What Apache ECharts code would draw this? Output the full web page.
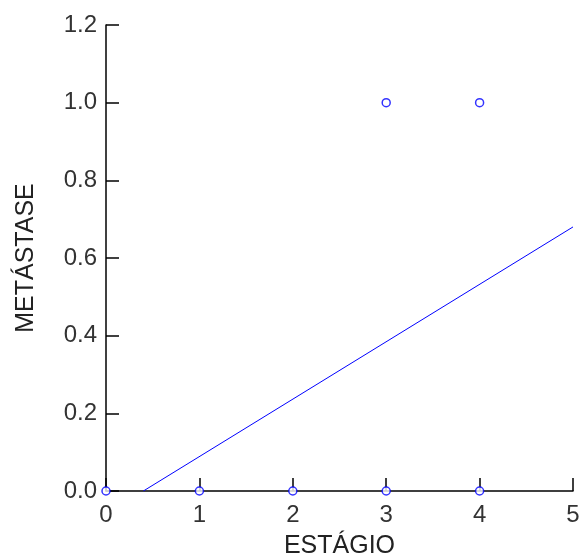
<!DOCTYPE html>
<html><head><meta charset="utf-8">
<script src="https://cdn.jsdelivr.net/npm/echarts@6/dist/echarts.min.js"></script>
<style>html,body{margin:0;padding:0;background:#fff}#c{width:579px;height:557px}</style>
</head><body><div id="c"></div>
<script>
const xTitle = 'ESTÁGIO';
const yTitle = 'METÁSTASE';
const pointsX = [0, 1, 2, 3, 4, 3, 4];
const pointsY = [0, 0, 0, 0, 0, 1, 1];
const lineX = [0.4, 5];
const lineY = [0, 0.68];

const chart = echarts.init(document.getElementById('c'));
const font = 'Liberation Sans, Arial, sans-serif';
chart.setOption({
  animation: false,
  grid: {left: 106, right: 6, top: 25, bottom: 66, outerBoundsMode: 'none', containLabel: false},
  xAxis: {
    type: 'value', min: 0, max: 5, interval: 1,
    name: xTitle, nameLocation: 'middle', nameGap: 43,
    nameTextStyle: {fontFamily: font, fontSize: 25, color: '#222'},
    axisLine: {show: true, lineStyle: {color: '#000', width: 1.5}},
    axisTick: {show: true, inside: true, length: 13, lineStyle: {color: '#000', width: 1.5}},
    axisLabel: {fontFamily: font, fontSize: 24, color: '#333', margin: 12},
    splitLine: {show: false}
  },
  yAxis: {
    type: 'value', min: 0, max: 1.2, interval: 0.2,
    name: yTitle, nameLocation: 'middle', nameGap: 67,
    nameTextStyle: {fontFamily: font, fontSize: 25, color: '#222'},
    axisLine: {show: true, lineStyle: {color: '#000', width: 1.5}},
    axisTick: {show: true, inside: true, length: 13, lineStyle: {color: '#000', width: 1.5}},
    axisLabel: {fontFamily: font, fontSize: 24, color: '#333', margin: 9,
      formatter: v => v.toFixed(1)},
    splitLine: {show: false}
  },
  series: [
    {
      type: 'line', data: lineX.map((x, i) => [x, lineY[i]]),
      showSymbol: false, lineStyle: {color: '#0000ff', width: 1}, z: 3
    },
    {
      type: 'scatter', data: pointsX.map((x, i) => [x, pointsY[i]]),
      symbol: 'circle', symbolSize: 8,
      itemStyle: {color: '#fff', borderColor: '#0000ff', borderWidth: 1.5}, z: 4
    }
  ]
});
</script></body></html>
